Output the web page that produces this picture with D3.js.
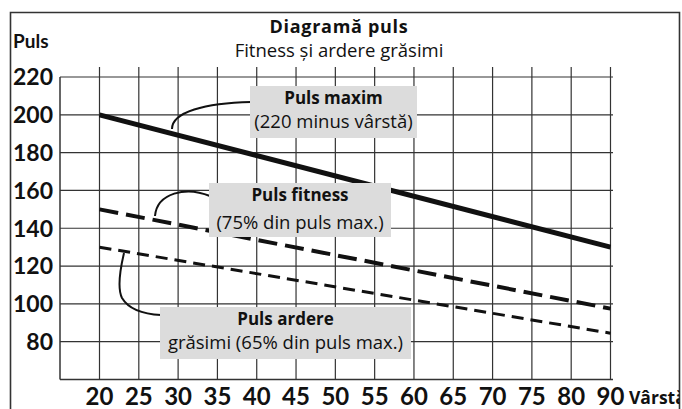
<!DOCTYPE html>
<html>
<head>
<meta charset="utf-8">
<script src="https://cdn.jsdelivr.net/npm/d3@7"></script>
<style>
  html, body { margin: 0; padding: 0; background: #fff; }
  svg { display: block; }
  text { font-family: "Open Sans", Lato, sans-serif; fill: #111; }
  text.num { font-family: Lato, "Open Sans", sans-serif; }
</style>
</head>
<body>
<script>
// Age categories on the horizontal axis (there is no 85 column)
const ageLabels = ["20", "25", "30", "35", "40", "45", "50", "55", "60", "65", "70", "75", "80", "90"];
// Pulse ticks on the vertical axis
const pulseTicks = [80, 100, 120, 140, 160, 180, 200, 220];

// Each zone is a straight line between the first and the last age
const lineAges = ["20", "90"];
const maxPulse = [200, 130];       // 220 minus age
const fitnessPulse = [150, 97.5];  // 75 % of max
const fatBurnPulse = [130, 84.5];  // 65 % of max

const titleText = "Diagramă puls";
const subtitleText = "Fitness și ardere grăsimi";
const yTitle = "Puls";
const xTitle = "Vârstă";

const W = 682, H = 409;
const svg = d3.select("body").append("svg").attr("width", W).attr("height", H);

// Frame
const frame = { x0: 10.5, y0: 12.5, x1: 679.5 };
svg.append("defs").append("clipPath").attr("id", "inside")
  .append("rect").attr("x", frame.x0).attr("y", frame.y0)
  .attr("width", frame.x1 - frame.x0).attr("height", H);
svg.append("path")
  .attr("d", `M${frame.x0},${H + 5}V${frame.y0}H${frame.x1}V${H + 5}`)
  .attr("fill", "none").attr("stroke", "#333").attr("stroke-width", 1.6);

const plotLeft = 60, plotBottom = 379.5, gridTop = 67;
const x = d3.scalePoint().domain(ageLabels).range([99.5, 610.5]);
const y = d3.scaleLinear().domain([60, 220]).range([plotBottom, 77]);
const gridRight = x("90") + 2.5;

const grid = svg.append("g").attr("stroke", "#333").attr("stroke-width", 1.2);
// horizontal grid lines
grid.selectAll("line.h").data(pulseTicks).join("line").attr("class", "h")
  .attr("x1", plotLeft).attr("x2", gridRight)
  .attr("y1", d => y(d)).attr("y2", d => y(d));
// vertical grid lines
grid.selectAll("line.v").data(ageLabels).join("line").attr("class", "v")
  .attr("x1", d => x(d)).attr("x2", d => x(d))
  .attr("y1", gridTop).attr("y2", plotBottom);
// axes
grid.append("line").attr("x1", plotLeft).attr("x2", plotLeft)
  .attr("y1", y(220)).attr("y2", plotBottom).attr("stroke-width", 1.5);
grid.append("line").attr("x1", plotLeft).attr("x2", gridRight)
  .attr("y1", plotBottom).attr("y2", plotBottom).attr("stroke-width", 1.5);

// Tick labels
svg.append("g").selectAll("text").data(pulseTicks).join("text")
  .attr("class", "num")
  .attr("x", 53).attr("y", d => y(d)).attr("dy", "0.36em")
  .attr("text-anchor", "end").attr("font-size", 23).attr("font-weight", 700)
  .text(d => d);
svg.append("g").selectAll("text").data(ageLabels).join("text")
  .attr("class", "num")
  .attr("x", d => x(d)).attr("y", 405)
  .attr("text-anchor", "middle").attr("font-size", 24).attr("font-weight", 700)
  .text(d => d);

// Titles
svg.append("text").attr("x", 339).attr("y", 33).attr("text-anchor", "middle")
  .attr("font-size", 18).attr("letter-spacing", 0.7).attr("font-weight", 700).text(titleText);
svg.append("text").attr("x", 339).attr("y", 57).attr("text-anchor", "middle")
  .attr("font-size", 18.5).text(subtitleText);
svg.append("text").attr("class", "num").attr("x", 13).attr("y", 48)
  .attr("font-size", 19).attr("font-weight", 700).text(yTitle);
svg.append("text").attr("x", 629).attr("y", 404).attr("clip-path", "url(#inside)")
  .attr("font-size", 17.5).attr("font-weight", 700).text(xTitle);

// Pulse lines
const line = d3.line().x(d => x(d.age)).y(d => y(d.v));
const series = [
  { values: maxPulse, width: 5, dash: null },
  { values: fitnessPulse, width: 4, dash: "19,8" },
  { values: fatBurnPulse, width: 3, dash: "12,7" }
];
svg.append("g").selectAll("path").data(series).join("path")
  .attr("d", s => line(lineAges.map((a, i) => ({ age: a, v: s.values[i] }))))
  .attr("fill", "none").attr("stroke", "#111")
  .attr("stroke-width", s => s.width)
  .attr("stroke-dasharray", s => s.dash);

// Callout leader curves
const leaders = svg.append("g").attr("fill", "none").attr("stroke", "#111").attr("stroke-width", 2);
leaders.append("path").attr("d", "M251,102 C205,103 172,112 172,129");
leaders.append("path").attr("d", "M210,196 C186,186 157,193 155,216");
leaders.append("path").attr("d", "M161,315 C140,314 128,308 122,298 C117,288 120,270 124,253");

// Callout boxes
const boxes = [
  { x0: 250, y0: 86, x1: 417, y1: 138, lines: ["Puls maxim", "(220 minus vârstă)"], ys: [104, 128] },
  { x0: 209, y0: 183, x1: 391, y1: 237, lines: ["Puls fitness", "(75% din puls max.)"], ys: [201, 229] },
  { x0: 160, y0: 307, x1: 411, y1: 359, lines: ["Puls ardere", "grăsimi (65% din puls max.)"], ys: [325, 349] }
];
const bg = svg.append("g").selectAll("g").data(boxes).join("g");
bg.append("rect").attr("x", d => d.x0).attr("y", d => d.y0)
  .attr("width", d => d.x1 - d.x0).attr("height", d => d.y1 - d.y0)
  .attr("fill", "#dcdcdc");
bg.append("text").attr("x", d => (d.x0 + d.x1) / 2).attr("y", d => d.ys[0])
  .attr("text-anchor", "middle").attr("font-size", 17).attr("font-weight", 700)
  .text(d => d.lines[0]);
bg.append("text").attr("x", d => (d.x0 + d.x1) / 2).attr("y", d => d.ys[1])
  .attr("text-anchor", "middle").attr("font-size", 18.5)
  .text(d => d.lines[1]);
</script>
</body>
</html>
